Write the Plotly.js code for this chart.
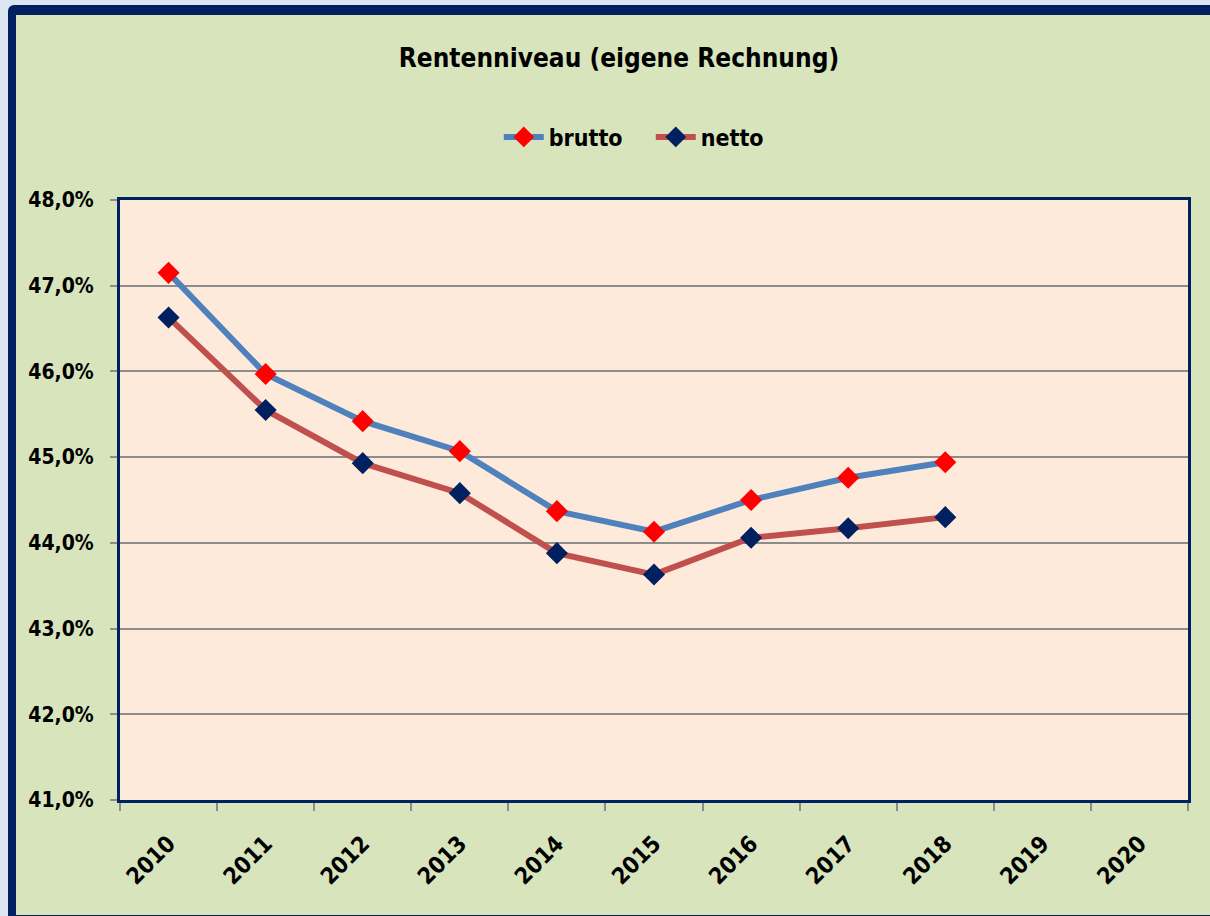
<!DOCTYPE html>
<html>
<head>
<meta charset="utf-8">
<script src="https://cdn.plot.ly/plotly-3.0.1.min.js"></script>
<style>
  html, body { margin: 0; padding: 0; background: #dce6f2; overflow: hidden; }
  #wrap {
    position: absolute; left: 8px; top: 5px;
    border-style: solid; border-color: #002060;
    border-width: 10px 8px 8px 8px; border-radius: 6px;
    width: 1210px; height: 900px; background: #d8e4bc; overflow: hidden;
  }
  #chart { position: absolute; left: 0; top: 0; width: 1194px; height: 898px; }
</style>
</head>
<body>
<div id="wrap"><div id="chart"></div></div>
<script>
const years = ["2010","2011","2012","2013","2014","2015","2016","2017","2018","2019","2020"];
const brutto = [47.15, 45.97, 45.42, 45.07, 44.37, 44.13, 44.50, 44.76, 44.94, null, null];
const netto  = [46.63, 45.55, 44.93, 44.58, 43.88, 43.63, 44.06, 44.17, 44.30, null, null];
const yTicks = [41, 42, 43, 44, 45, 46, 47, 48];

const FONT = '"Liberation Sans Narrow", "DejaVu Sans Condensed", "Liberation Sans", sans-serif';

const traces = [
  {
    x: years, y: brutto, name: '<b>brutto</b>', type: 'scatter', mode: 'lines+markers',
    line: { color: '#4f81bd', width: 6 },
    marker: { symbol: 'diamond', size: 17, color: '#ff0000' },
    connectgaps: false
  },
  {
    x: years, y: netto, name: '<b>netto</b>', type: 'scatter', mode: 'lines+markers',
    line: { color: '#c0504d', width: 6 },
    marker: { symbol: 'diamond', size: 17, color: '#002060' },
    connectgaps: false
  }
];

const layout = {
  width: 1194, height: 898,
  margin: { l: 104, r: 22, t: 185, b: 113 },
  paper_bgcolor: '#d8e4bc',
  plot_bgcolor: '#fdeada',
  separators: ',.',
  font: { family: FONT, color: '#000000' },
  title: {
    text: '<b>Rentenniveau (eigene Rechnung)</b>',
    font: { family: FONT, size: 26, color: '#000' },
    x: 0.505, xref: 'container', xanchor: 'center',
    y: 0.952, yref: 'container', yanchor: 'middle'
  },
  showlegend: true,
  legend: {
    orientation: 'h', x: 0.497, xanchor: 'center', y: 1.105, yanchor: 'middle',
    font: { family: FONT, size: 23, color: '#000' },
    bgcolor: 'rgba(0,0,0,0)', itemwidth: 40, traceorder: 'normal',
    entrywidth: 97, entrywidthmode: 'pixels'
  },
  xaxis: {
    type: 'category', categoryorder: 'array', categoryarray: years,
    range: [-0.5, 10.5], tickson: 'boundaries',
    ticks: 'outside', ticklen: 8, tickwidth: 2, tickcolor: '#8c8c8c',
    tickangle: -45, ticklabelstandoff: 18,
    tickfont: { family: FONT, size: 23, color: '#000' },
    tickprefix: '<b>', ticksuffix: '</b>',
    showgrid: false, zeroline: false,
    showline: true, mirror: true, linecolor: '#002060', linewidth: 3,
    fixedrange: true
  },
  yaxis: {
    range: [41, 48], tickvals: yTicks,
    ticktext: yTicks.map(v => '<b>' + v.toFixed(1).replace('.', ',') + '%</b>'),
    ticks: 'outside', ticklen: 7, tickwidth: 2, tickcolor: '#8c8c8c',
    ticklabelstandoff: 12,
    tickfont: { family: FONT, size: 21, color: '#000' },
    showgrid: true, gridcolor: '#8c8c8c', gridwidth: 2,
    zeroline: false,
    showline: true, mirror: true, linecolor: '#002060', linewidth: 3,
    fixedrange: true
  }
};

Plotly.newPlot('chart', traces, layout, { displayModeBar: false, staticPlot: true });
</script>
</body>
</html>
